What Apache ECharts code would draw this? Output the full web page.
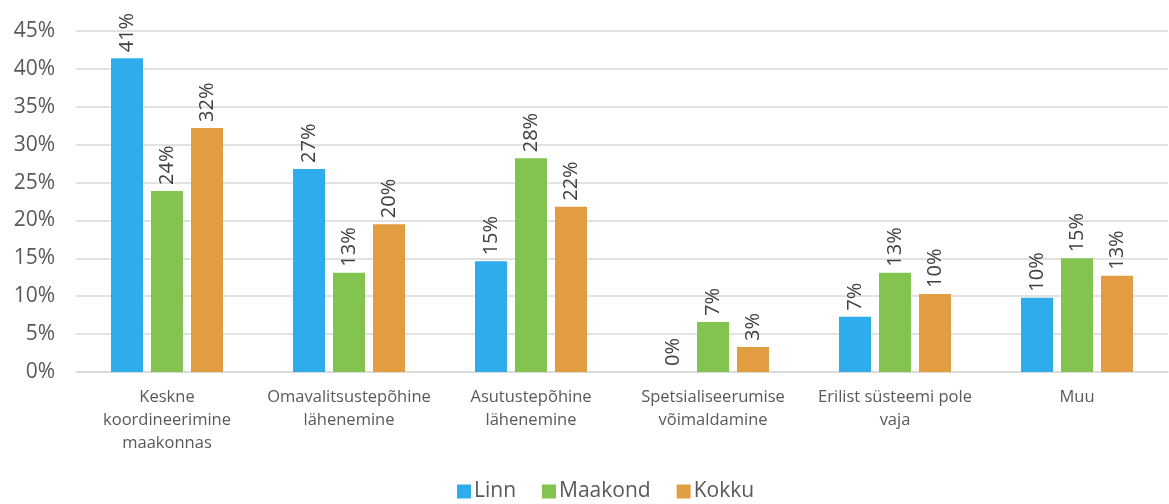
<!DOCTYPE html>
<html>
<head>
<meta charset="utf-8">
<script src="https://cdn.jsdelivr.net/npm/echarts@6/dist/echarts.min.js"></script>
<style>
html, body { margin: 0; padding: 0; background: #fff; }
#chart { width: 1169px; height: 504px; }
</style>
</head>
<body>
<div id="chart"></div>
<script>
// kategooriad ja väärtused (%)
var categories = [
	'Keskne\nkoordineerimine\nmaakonnas',
	'Omavalitsustepõhine\nlähenemine',
	'Asutustepõhine\nlähenemine',
	'Spetsialiseerumise\nvõimaldamine',
	'Erilist süsteemi pole\nvaja',
	'Muu'
];
var linn = [41.4, 26.8, 14.6, 0, 7.3, 9.8];
var maakond = [23.9, 13.1, 28.2, 6.6, 13.1, 15.0];
var kokku = [32.2, 19.5, 21.8, 3.3, 10.3, 12.7];
var yTicks = [0, 5, 10, 15, 20, 25, 30, 35, 40, 45];

var chart = echarts.init(document.getElementById('chart'));

var labelStyle = {
	show: true,
	position: 'top',
	rotate: 90,
	align: 'left',
	verticalAlign: 'middle',
	distance: 6,
	fontFamily: 'Open Sans',
	fontSize: 20,
	color: '#404040',
	formatter: function (p) { return Math.round(p.value) + '%'; }
};

function makeSeries(name, data, color) {
	return {
		name: name,
		type: 'bar',
		data: data,
		barWidth: 32,
		barGap: '25%',
		itemStyle: { color: color },
		label: labelStyle
	};
}

var option = {
	animation: false,
	grid: { left: 76, right: 1, top: 31, bottom: 132 },
	legend: {
		bottom: -3,
		left: 452,
		itemWidth: 14,
		itemHeight: 14,
		itemGap: 26,
		icon: 'rect',
		textStyle: { fontFamily: 'Open Sans', fontSize: 21, color: '#595959', padding: [0, 0, 0, -2] },
		data: ['Linn', 'Maakond', 'Kokku']
	},
	xAxis: {
		type: 'category',
		data: categories,
		axisTick: { show: false },
		axisLine: { lineStyle: { color: '#d9d9d9', width: 1.5 } },
		axisLabel: {
			interval: 0,
			margin: 14,
			fontFamily: 'Open Sans',
			fontSize: 16.5,
			lineHeight: 23,
			color: '#595959'
		}
	},
	yAxis: {
		type: 'value',
		min: yTicks[0],
		max: yTicks[yTicks.length - 1],
		interval: 5,
		axisLine: { show: false },
		axisTick: { show: false },
		splitLine: { lineStyle: { color: '#d9d9d9', width: 1.5 } },
		axisLabel: {
			margin: 21,
			fontFamily: 'Open Sans',
			fontSize: 21,
			color: '#595959',
			formatter: '{value}%'
		}
	},
	series: [
		makeSeries('Linn', linn, '#2FACEB'),
		makeSeries('Maakond', maakond, '#83C451'),
		makeSeries('Kokku', kokku, '#E29D41')
	]
};

chart.setOption(option);
</script>
</body>
</html>
